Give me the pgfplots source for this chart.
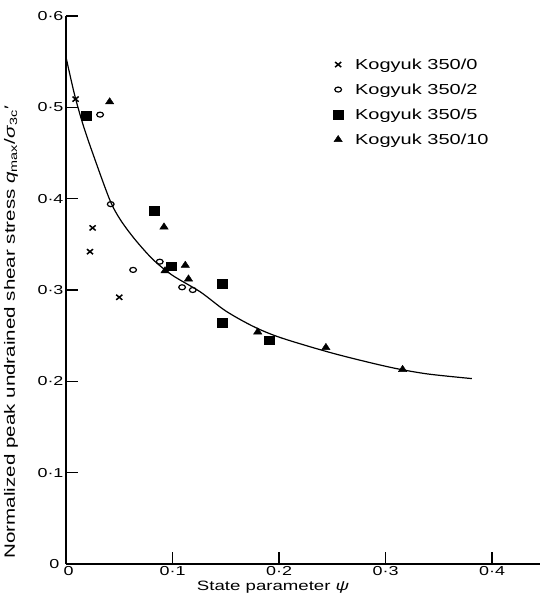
\documentclass[border=0pt]{standalone}
\usepackage{fontspec}
\setmainfont{Liberation Sans}
\newfontfamily\wf{Liberation Sans}[FakeStretch=1.38]
\usepackage{pgfplots}
\pgfplotsset{compat=1.18}
\newcommand{\lgf}{\wf\fontsize{14.5}{16}\selectfont}
\begin{document}
\wf
\begin{tikzpicture}
\begin{axis}[
  name=ax,
  scale only axis,
  width=474pt, height=548pt,
  xmin=0, xmax=0.445, ymin=0, ymax=0.6,
  axis x line*=bottom, axis y line*=left,
  axis line style={line width=1.6pt},
  xtick={0,0.1,0.2,0.3,0.4},
  xticklabels={\mbox{\wf\hspace{5pt}0},\mbox{\wf 0·1},\mbox{\wf 0·2},\mbox{\wf 0·3},\mbox{\wf 0·4}},
  ytick={0,0.1,0.2,0.3,0.4,0.5,0.6},
  yticklabels={\mbox{\wf 0\hspace{4pt}},\mbox{\wf 0·1},\mbox{\wf 0·2},\mbox{\wf 0·3},\mbox{\wf 0·4},\mbox{\wf 0·5},\mbox{\wf 0·6}},
  tick align=inside,
  major tick length=12pt,
  tick style={line width=1.3pt, black},
  ticklabel style={font=\wf\fontsize{13}{15}\selectfont},
  xticklabel style={yshift=1pt},
  yticklabel style={xshift=1pt},
  xlabel={State parameter \textit{ψ}},
  xlabel style={font=\wf\fontsize{13.5}{16}\selectfont, at={(axis description cs:0.437,0)}, anchor=north, yshift=-14pt},
  ylabel={Normalized peak undrained shear stress \textit{q}\textsubscript{max}/\textit{σ}\textsubscript{3c}′},
  ylabel style={font=\wf\fontsize{14.9}{17}\selectfont, at={(axis description cs:-0.116,0.423)}, anchor=center},
  legend cell align=left,
  legend style={draw=none, fill=none, at={(0.557,0.930)}, anchor=north west, row sep=9pt,
    font=\lgf, /tikz/every odd column/.append style={column sep=10pt}},
]
\addplot[black, line width=1.2pt, smooth, forget plot] coordinates {
(0.000,0.555) (0.008,0.514) (0.016,0.481) (0.025,0.450) (0.041,0.399)
(0.051,0.377) (0.065,0.355) (0.082,0.333) (0.100,0.316) (0.126,0.298)
(0.150,0.277) (0.176,0.260) (0.201,0.248) (0.245,0.2325) (0.280,0.222)
(0.310,0.214) (0.340,0.208) (0.381,0.203)};
\addplot[only marks, mark=x, mark size=3.6pt, mark options={line width=1.5pt, black, xscale=1.2}] coordinates {
(0.009,0.509) (0.025,0.368) (0.0225,0.342) (0.050,0.292)};
\addlegendentry{\lgf Kogyuk 350/0}
\addplot[only marks, mark=o, mark size=2.5pt, mark options={line width=1.2pt, black, xscale=1.35}] coordinates {
(0.032,0.492) (0.042,0.394) (0.063,0.322) (0.088,0.331) (0.109,0.303) (0.119,0.300)};
\addlegendentry{\lgf Kogyuk 350/2}
\addplot[only marks, mark=square*, mark size=4.3pt, mark options={black, xscale=1.15}] coordinates {
(0.019,0.491) (0.083,0.387) (0.099,0.326) (0.147,0.307) (0.147,0.264) (0.191,0.245)};
\addlegendentry{\lgf Kogyuk 350/5}
\addplot[only marks, mark=triangle*, mark size=4.2pt, mark options={black, xscale=1.15}] coordinates {
(0.041,0.506) (0.092,0.369) (0.093,0.321) (0.112,0.327) (0.115,0.312) (0.180,0.254) (0.244,0.237) (0.316,0.213)};
\addlegendentry{\lgf Kogyuk 350/10}
\end{axis}
\pgfresetboundingbox
\path ([shift={(-66pt,-44pt)}]ax.south west) rectangle ([shift={(2pt,16pt)}]ax.north east);
\end{tikzpicture}
\end{document}
